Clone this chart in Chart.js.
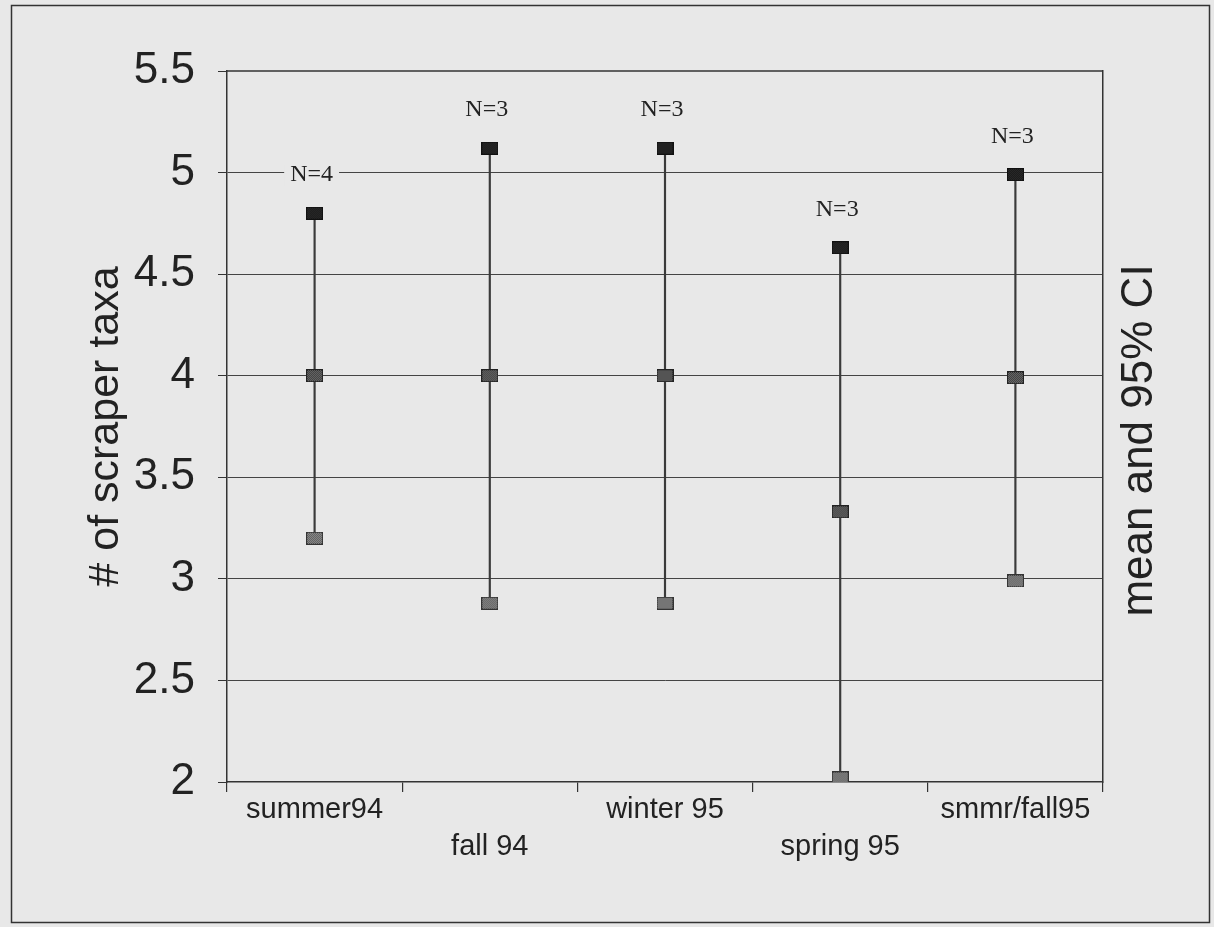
<!DOCTYPE html>
<html><head><meta charset="utf-8">
<script src="https://cdn.jsdelivr.net/npm/chart.js@4/dist/chart.umd.min.js"></script>
<style>
html,body{margin:0;padding:0;background:#e8e8e8;}
#wrap{width:1214px;height:927px;position:relative;}
canvas{display:block;}
</style>
</head><body><div id="wrap"><canvas id="c" width="1214" height="927"></canvas></div>
<script>
// ---- data ----
const categories = ['summer94', 'fall 94', 'winter 95', 'spring 95', 'smmr/fall95'];
const labelRow   = [0, 1, 0, 1, 0];
const upperCI    = [4.80, 5.12, 5.12, 4.63, 4.99];
const meanVals   = [4.00, 4.00, 4.00, 3.33, 3.99];
const lowerCI    = [3.20, 2.88, 2.88, 2.02, 2.99];
const nLabels    = ['N=4', 'N=3', 'N=3', 'N=3', 'N=3'];
const yMin = 2, yMax = 5.5, yMinorStep = 0.25, yMajorStep = 0.5;
const yTitle = '# of scraper taxa';
const y2Title = 'mean and 95% CI';

const BG = '#e8e8e8';
const INK = '#222222';
const SANS = '"Liberation Sans", Arial, sans-serif';

function makeMarker(c1, c2, border) {
  const cv = document.createElement('canvas');
  cv.width = 17; cv.height = 13;
  const g = cv.getContext('2d');
  for (let y = 0; y < 13; y++) for (let x = 0; x < 17; x++) {
    g.fillStyle = ((x + y) % 2 === 0) ? c1 : c2;
    g.fillRect(x, y, 1, 1);
  }
  g.strokeStyle = border; g.lineWidth = 1;
  g.strokeRect(0.5, 0.5, 16, 12);
  return cv;
}
const mUpper = makeMarker('#1a1a1a', '#2a2a2a', '#111');
const mMean  = makeMarker('#2e2e2e', '#7a7a7a', '#222');
const mLower = makeMarker('#4a4a4a', '#a0a0a0', '#333');

const xLabels = categories.map((c, i) => labelRow[i] ? ['', c] : [c]);
const ranges = lowerCI.map((l, i) => [l, upperCI[i]]);

const decor = {
  id: 'decor',
  beforeDraw(chart) {
    const {ctx, width, height} = chart;
    ctx.save();
    ctx.fillStyle = BG; ctx.fillRect(0, 0, width, height);
    ctx.strokeStyle = '#333'; ctx.lineWidth = 1.5;
    ctx.strokeRect(11.5, 5.5, 1198, 917);
    ctx.restore();
  },
  afterDraw(chart) {
    const {ctx, chartArea: a} = chart;
    const xs = chart.scales.x, ys = chart.scales.y;
    ctx.save();
    ctx.strokeStyle = '#333'; ctx.lineWidth = 1.5;
    ctx.beginPath(); ctx.moveTo(a.left, a.top); ctx.lineTo(a.right, a.top); ctx.stroke();
    // N labels
    ctx.font = '24px "Liberation Serif", "Times New Roman", serif';
    ctx.textAlign = 'center'; ctx.textBaseline = 'middle';
    nLabels.forEach((t, i) => {
      const x = xs.getPixelForValue(i) - 3;
      const y = ys.getPixelForValue(upperCI[i]) - 38;
      const w = ctx.measureText(t).width;
      ctx.fillStyle = BG; ctx.fillRect(x - w / 2 - 6, y - 10, w + 12, 20);
      ctx.fillStyle = INK; ctx.fillText(t, x, y);
    });
    // right-hand axis title, reading bottom-to-top
    ctx.font = '44px ' + SANS;
    ctx.fillStyle = INK;
    ctx.translate(a.right + 37, (a.top + a.bottom) / 2 + 14);
    ctx.rotate(-Math.PI / 2);
    ctx.fillText(y2Title, 0, 0);
    ctx.restore();
  }
};

new Chart(document.getElementById('c'), {
  type: 'bar',
  data: {
    labels: xLabels,
    datasets: [
      { type: 'line', data: upperCI, showLine: false, pointStyle: mUpper, pointRadius: 8, order: 1 },
      { type: 'line', data: meanVals, showLine: false, pointStyle: mMean, pointRadius: 8, order: 1 },
      { type: 'line', data: lowerCI, showLine: false, pointStyle: mLower, pointRadius: 8, order: 1 },
      { type: 'bar', data: ranges, backgroundColor: '#3a3a3a', barThickness: 1.5, borderWidth: 0, order: 2 }
    ]
  },
  options: {
    responsive: false,
    animation: false,
    events: [],
    layout: { padding: { top: 71, left: 0, right: 0, bottom: 0 } },
    plugins: { legend: { display: false }, tooltip: { enabled: false } },
    scales: {
      x: {
        type: 'category',
        offset: true,
        grid: { offset: true, drawOnChartArea: false, color: '#333', tickLength: 10, lineWidth: 1.2 },
        border: { display: true, color: '#333', width: 1.5 },
        ticks: { color: INK, padding: 0, maxRotation: 0, autoSkip: false,
                 font: { family: SANS, size: 29, lineHeight: 1.27 } },
        afterFit(s) { s.height = 145; }
      },
      y: {
        min: yMin, max: yMax,
        position: 'left',
        ticks: {
          stepSize: yMinorStep, color: INK, padding: 23,
          font: { family: SANS, size: 44 },
          callback: (v) => (Math.abs(v / yMajorStep - Math.round(v / yMajorStep)) < 1e-6) ? String(v) : ''
        },
        grid: {
          tickLength: 9,
          lineWidth: 1,
          borderDash: [2, 1],
          tickBorderDash: [],
          color: (ctx) => {
            const v = ctx.tick ? ctx.tick.value : 0;
            const major = Math.abs(v / yMajorStep - Math.round(v / yMajorStep)) < 1e-6;
            return (major && v > yMin && v < yMax) ? '#444' : 'rgba(0,0,0,0)';
          },
          tickColor: '#333'
        },
        border: { display: true, color: '#333', width: 1.5 },
        title: { display: true, text: yTitle, color: INK, padding: { top: 80, bottom: 0 },
                 font: { family: SANS, size: 43 } },
        afterFit(s) { s.width = 227; }
      },
      y2: {
        min: yMin, max: yMax,
        position: 'right',
        ticks: { display: false },
        grid: { display: true, drawOnChartArea: false, drawTicks: false },
        border: { display: true, color: '#333', width: 1.5 },
        afterFit(s) { s.width = 111; }
      }
    }
  },
  plugins: [decor]
});
</script>
</body></html>
